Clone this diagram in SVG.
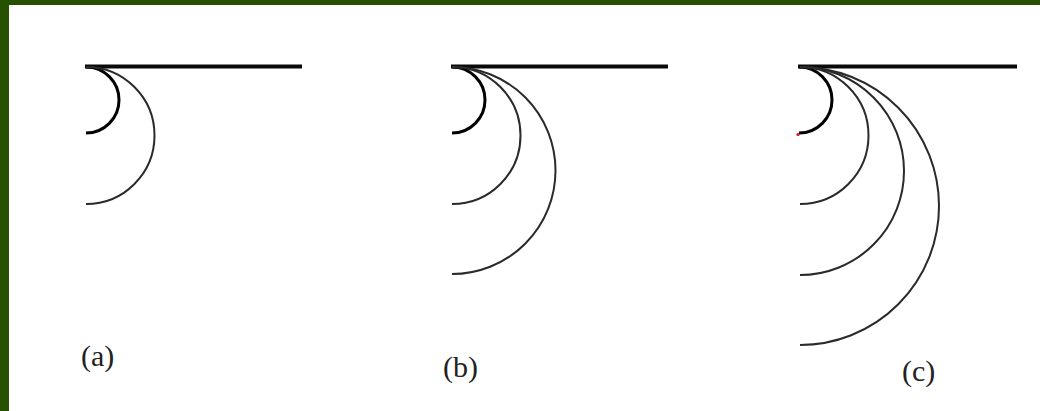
<svg xmlns="http://www.w3.org/2000/svg" width="1040" height="411" viewBox="0 0 1040 411">
  <style>
    .base { stroke: #0a0a0a; stroke-width: 4; fill: none; }
    .inner { stroke: #000; stroke-width: 3; fill: none; }
    .arc { stroke: #2a2a2a; stroke-width: 2; fill: none; }
    .lbl { font-family: "Liberation Serif", "Times New Roman", serif; font-size: 30px; fill: #222; }
  </style>
  <rect x="0" y="0" width="1040" height="411" fill="#ffffff"/>
  <rect x="0" y="0" width="1040" height="5" fill="#265200"/>
  <rect x="0" y="0" width="9" height="411" fill="#265200"/>

  <g id="panel-a">
    <line class="base" x1="85" y1="66.5" x2="302" y2="66.5"/>
    <path class="inner" d="M86,67 A33,33 0 0 1 86,133"/>
    <path class="arc" d="M86,67 A68.5,68.5 0 0 1 86,204"/>
    <text class="lbl" x="81" y="366">(a)</text>
  </g>

  <g id="panel-b">
    <line class="base" x1="451" y1="66.5" x2="668" y2="66.5"/>
    <path class="inner" d="M452,67 A33,33 0 0 1 452,133"/>
    <path class="arc" d="M452,67 A68.5,68.5 0 0 1 452,204"/>
    <path class="arc" d="M452,67 A103.5,103.5 0 0 1 452,274"/>
    <text class="lbl" x="443" y="377">(b)</text>
  </g>

  <g id="panel-c">
    <line class="base" x1="798" y1="66.5" x2="1017" y2="66.5"/>
    <path class="inner" d="M799,67 A33,33 0 0 1 799,133"/>
    <path class="arc" d="M800,67 A68.5,68.5 0 0 1 800,204"/>
    <path class="arc" d="M800,67 A104,104 0 0 1 800,275"/>
    <path class="arc" d="M800,67 A139,139 0 0 1 800,345"/>
    <circle cx="798" cy="134.5" r="1.6" fill="#e01010"/>
    <text class="lbl" x="902" y="381">(c)</text>
  </g>
</svg>
